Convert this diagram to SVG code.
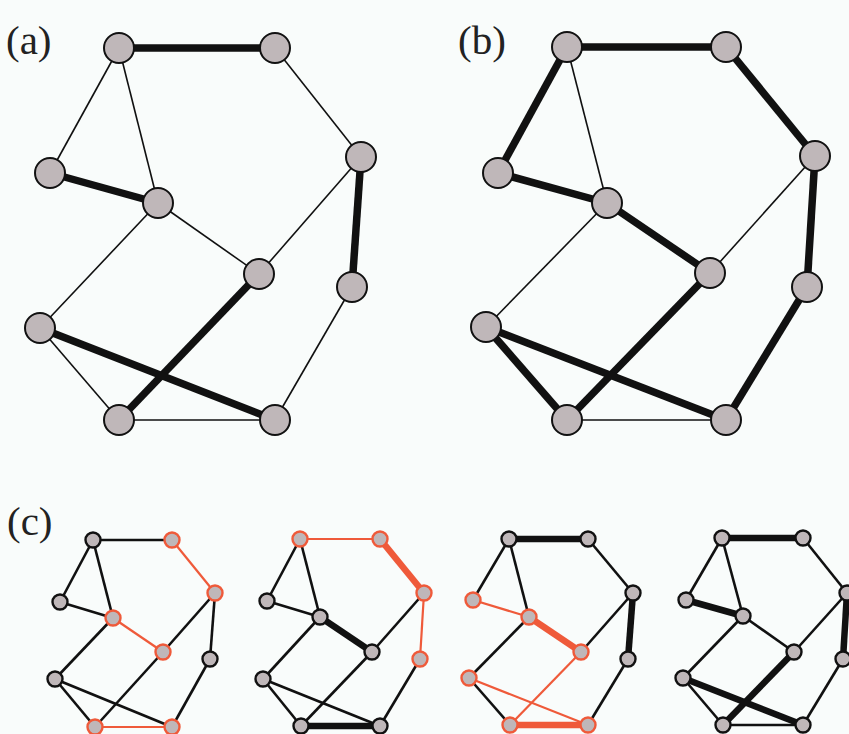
<svg xmlns="http://www.w3.org/2000/svg" width="849" height="734" viewBox="0 0 849 734">
<style>
.bg{fill:#f9fcfb}
.lbl{font-family:"Liberation Serif","DejaVu Serif",serif;font-size:41px;fill:#222}
.big .n{fill:#bfb7b9;stroke:#111;stroke-width:2}
.big .t{stroke:#111;stroke-width:1.6;fill:none}
.big .T{stroke:#111;stroke-width:7.5;fill:none}
.sm .n{fill:#bfb7b9;stroke:#111;stroke-width:2.4}
.sm .no{fill:#bfb7b9;stroke:#ef5a3a;stroke-width:2.4}
.sm .t{stroke:#111;stroke-width:2.6;fill:none}
.sm .T{stroke:#111;stroke-width:6.5;fill:none}
.sm .o{stroke:#ef5a3a;stroke-width:2.2;fill:none}
.sm .O{stroke:#ef5a3a;stroke-width:6.5;fill:none}
</style>
<rect class="bg" x="0" y="0" width="849" height="734"/>
<text class="lbl" x="6" y="54">(a)</text>
<text class="lbl" x="458" y="54">(b)</text>
<text class="lbl" x="7" y="535">(c)</text>

<!-- Panel (a) -->
<g class="big" id="panel-a">
<g id="a-edges">
<line class="T" x1="119" y1="48" x2="275" y2="48"/>
<line class="t" x1="119" y1="48" x2="50" y2="173"/>
<line class="t" x1="119" y1="48" x2="158" y2="203"/>
<line class="t" x1="275" y1="48" x2="361" y2="157"/>
<line class="T" x1="50" y1="173" x2="158" y2="203"/>
<line class="t" x1="158" y1="203" x2="259" y2="274"/>
<line class="t" x1="158" y1="203" x2="40" y2="328"/>
<line class="t" x1="361" y1="157" x2="259" y2="274"/>
<line class="T" x1="361" y1="157" x2="352" y2="287"/>
<line class="T" x1="259" y1="274" x2="119" y2="420"/>
<line class="t" x1="352" y1="287" x2="275" y2="420"/>
<line class="t" x1="40" y1="328" x2="119" y2="420"/>
<line class="T" x1="40" y1="328" x2="275" y2="420"/>
<line class="t" x1="119" y1="420" x2="275" y2="420"/>
</g>
<g id="a-n1"><circle class="n" cx="119" cy="48" r="15"/></g>
<g id="a-n2"><circle class="n" cx="275" cy="48" r="15"/></g>
<g id="a-n3"><circle class="n" cx="361" cy="157" r="15"/></g>
<g id="a-n4"><circle class="n" cx="50" cy="173" r="15"/></g>
<g id="a-n5"><circle class="n" cx="158" cy="203" r="15"/></g>
<g id="a-n6"><circle class="n" cx="259" cy="274" r="15"/></g>
<g id="a-n7"><circle class="n" cx="352" cy="287" r="15"/></g>
<g id="a-n8"><circle class="n" cx="40" cy="328" r="15"/></g>
<g id="a-n9"><circle class="n" cx="119" cy="420" r="15"/></g>
<g id="a-n10"><circle class="n" cx="275" cy="420" r="15"/></g>
</g>

<!-- Panel (b) -->
<g class="big" id="panel-b">
<g id="b-edges">
<line class="T" x1="567" y1="47" x2="726" y2="47"/>
<line class="T" x1="567" y1="47" x2="498" y2="173"/>
<line class="t" x1="567" y1="47" x2="607" y2="203"/>
<line class="T" x1="726" y1="47" x2="815" y2="156"/>
<line class="T" x1="498" y1="173" x2="607" y2="203"/>
<line class="T" x1="607" y1="203" x2="710" y2="273"/>
<line class="t" x1="607" y1="203" x2="486" y2="327"/>
<line class="t" x1="815" y1="156" x2="710" y2="273"/>
<line class="T" x1="815" y1="156" x2="807" y2="287"/>
<line class="T" x1="710" y1="273" x2="567" y2="420"/>
<line class="T" x1="807" y1="287" x2="726" y2="420"/>
<line class="T" x1="486" y1="327" x2="567" y2="420"/>
<line class="T" x1="486" y1="327" x2="726" y2="420"/>
<line class="t" x1="567" y1="420" x2="726" y2="420"/>
</g>
<g id="b-n1"><circle class="n" cx="567" cy="47" r="15"/></g>
<g id="b-n2"><circle class="n" cx="726" cy="47" r="15"/></g>
<g id="b-n3"><circle class="n" cx="815" cy="156" r="15"/></g>
<g id="b-n4"><circle class="n" cx="498" cy="173" r="15"/></g>
<g id="b-n5"><circle class="n" cx="607" cy="203" r="15"/></g>
<g id="b-n6"><circle class="n" cx="710" cy="273" r="15"/></g>
<g id="b-n7"><circle class="n" cx="807" cy="287" r="15"/></g>
<g id="b-n8"><circle class="n" cx="486" cy="327" r="15"/></g>
<g id="b-n9"><circle class="n" cx="567" cy="420" r="15"/></g>
<g id="b-n10"><circle class="n" cx="726" cy="420" r="15"/></g>
</g>

<!-- Panel (c1) -->
<g class="sm" id="panel-c1">
<g id="c1-edges">
<line class="t" x1="93" y1="540" x2="172" y2="540"/>
<line class="t" x1="93" y1="540" x2="60" y2="602"/>
<line class="t" x1="93" y1="540" x2="113" y2="618"/>
<line class="o" x1="172" y1="540" x2="215" y2="593"/>
<line class="t" x1="60" y1="602" x2="113" y2="618"/>
<line class="o" x1="113" y1="618" x2="163" y2="652"/>
<line class="t" x1="113" y1="618" x2="55" y2="679"/>
<line class="t" x1="215" y1="593" x2="163" y2="652"/>
<line class="t" x1="215" y1="593" x2="210" y2="659"/>
<line class="t" x1="163" y1="652" x2="95" y2="727"/>
<line class="t" x1="210" y1="659" x2="172" y2="727"/>
<line class="t" x1="55" y1="679" x2="95" y2="727"/>
<line class="t" x1="55" y1="679" x2="172" y2="727"/>
<line class="o" x1="95" y1="727" x2="172" y2="727"/>
</g>
<g id="c1-n1"><circle class="n" cx="93" cy="540" r="7.5"/></g>
<g id="c1-n2"><circle class="no" cx="172" cy="540" r="7.5"/></g>
<g id="c1-n3"><circle class="no" cx="215" cy="593" r="7.5"/></g>
<g id="c1-n4"><circle class="n" cx="60" cy="602" r="7.5"/></g>
<g id="c1-n5"><circle class="no" cx="113" cy="618" r="7.5"/></g>
<g id="c1-n6"><circle class="no" cx="163" cy="652" r="7.5"/></g>
<g id="c1-n7"><circle class="n" cx="210" cy="659" r="7.5"/></g>
<g id="c1-n8"><circle class="n" cx="55" cy="679" r="7.5"/></g>
<g id="c1-n9"><circle class="no" cx="95" cy="727" r="7.5"/></g>
<g id="c1-n10"><circle class="no" cx="172" cy="727" r="7.5"/></g>
</g>

<!-- Panel (c2) -->
<g class="sm" id="panel-c2">
<g id="c2-edges">
<line class="o" x1="300" y1="539" x2="380" y2="539"/>
<line class="t" x1="300" y1="539" x2="267" y2="601"/>
<line class="t" x1="300" y1="539" x2="320" y2="617"/>
<line class="O" x1="380" y1="539" x2="424" y2="593"/>
<line class="t" x1="267" y1="601" x2="320" y2="617"/>
<line class="T" x1="320" y1="617" x2="372" y2="652"/>
<line class="t" x1="320" y1="617" x2="263" y2="679"/>
<line class="t" x1="424" y1="593" x2="372" y2="652"/>
<line class="o" x1="424" y1="593" x2="420" y2="659"/>
<line class="t" x1="372" y1="652" x2="301" y2="726"/>
<line class="t" x1="420" y1="659" x2="380" y2="726"/>
<line class="t" x1="263" y1="679" x2="301" y2="726"/>
<line class="t" x1="263" y1="679" x2="380" y2="726"/>
<line class="T" x1="301" y1="726" x2="380" y2="726"/>
</g>
<g id="c2-n1"><circle class="no" cx="300" cy="539" r="7.5"/></g>
<g id="c2-n2"><circle class="no" cx="380" cy="539" r="7.5"/></g>
<g id="c2-n3"><circle class="no" cx="424" cy="593" r="7.5"/></g>
<g id="c2-n4"><circle class="n" cx="267" cy="601" r="7.5"/></g>
<g id="c2-n5"><circle class="n" cx="320" cy="617" r="7.5"/></g>
<g id="c2-n6"><circle class="n" cx="372" cy="652" r="7.5"/></g>
<g id="c2-n7"><circle class="no" cx="420" cy="659" r="7.5"/></g>
<g id="c2-n8"><circle class="n" cx="263" cy="679" r="7.5"/></g>
<g id="c2-n9"><circle class="n" cx="301" cy="726" r="7.5"/></g>
<g id="c2-n10"><circle class="n" cx="380" cy="726" r="7.5"/></g>
</g>

<!-- Panel (c3) -->
<g class="sm" id="panel-c3">
<g id="c3-edges">
<line class="T" x1="509" y1="539" x2="588" y2="539"/>
<line class="t" x1="509" y1="539" x2="473" y2="600"/>
<line class="t" x1="509" y1="539" x2="529" y2="617"/>
<line class="t" x1="588" y1="539" x2="633" y2="593"/>
<line class="o" x1="473" y1="600" x2="529" y2="617"/>
<line class="O" x1="529" y1="617" x2="581" y2="652"/>
<line class="t" x1="529" y1="617" x2="469" y2="678"/>
<line class="t" x1="633" y1="593" x2="581" y2="652"/>
<line class="T" x1="633" y1="593" x2="628" y2="659"/>
<line class="o" x1="581" y1="652" x2="510" y2="725"/>
<line class="t" x1="628" y1="659" x2="588" y2="725"/>
<line class="t" x1="469" y1="678" x2="510" y2="725"/>
<line class="o" x1="469" y1="678" x2="588" y2="725"/>
<line class="O" x1="510" y1="725" x2="588" y2="725"/>
</g>
<g id="c3-n1"><circle class="n" cx="509" cy="539" r="7.5"/></g>
<g id="c3-n2"><circle class="n" cx="588" cy="539" r="7.5"/></g>
<g id="c3-n3"><circle class="n" cx="633" cy="593" r="7.5"/></g>
<g id="c3-n4"><circle class="no" cx="473" cy="600" r="7.5"/></g>
<g id="c3-n5"><circle class="no" cx="529" cy="617" r="7.5"/></g>
<g id="c3-n6"><circle class="no" cx="581" cy="652" r="7.5"/></g>
<g id="c3-n7"><circle class="n" cx="628" cy="659" r="7.5"/></g>
<g id="c3-n8"><circle class="no" cx="469" cy="678" r="7.5"/></g>
<g id="c3-n9"><circle class="no" cx="510" cy="725" r="7.5"/></g>
<g id="c3-n10"><circle class="no" cx="588" cy="725" r="7.5"/></g>
</g>

<!-- Panel (c4) -->
<g class="sm" id="panel-c4">
<g id="c4-edges">
<line class="T" x1="722" y1="538" x2="803" y2="538"/>
<line class="t" x1="722" y1="538" x2="686" y2="600"/>
<line class="t" x1="722" y1="538" x2="743" y2="616"/>
<line class="t" x1="803" y1="538" x2="847" y2="593"/>
<line class="T" x1="686" y1="600" x2="743" y2="616"/>
<line class="t" x1="743" y1="616" x2="794" y2="652"/>
<line class="t" x1="743" y1="616" x2="683" y2="678"/>
<line class="t" x1="847" y1="593" x2="794" y2="652"/>
<line class="T" x1="847" y1="593" x2="843" y2="659"/>
<line class="T" x1="794" y1="652" x2="723" y2="725"/>
<line class="t" x1="843" y1="659" x2="803" y2="725"/>
<line class="t" x1="683" y1="678" x2="723" y2="725"/>
<line class="T" x1="683" y1="678" x2="803" y2="725"/>
<line class="t" x1="723" y1="725" x2="803" y2="725"/>
</g>
<g id="c4-n1"><circle class="n" cx="722" cy="538" r="7.5"/></g>
<g id="c4-n2"><circle class="n" cx="803" cy="538" r="7.5"/></g>
<g id="c4-n3"><circle class="n" cx="847" cy="593" r="7.5"/></g>
<g id="c4-n4"><circle class="n" cx="686" cy="600" r="7.5"/></g>
<g id="c4-n5"><circle class="n" cx="743" cy="616" r="7.5"/></g>
<g id="c4-n6"><circle class="n" cx="794" cy="652" r="7.5"/></g>
<g id="c4-n7"><circle class="n" cx="843" cy="659" r="7.5"/></g>
<g id="c4-n8"><circle class="n" cx="683" cy="678" r="7.5"/></g>
<g id="c4-n9"><circle class="n" cx="723" cy="725" r="7.5"/></g>
<g id="c4-n10"><circle class="n" cx="803" cy="725" r="7.5"/></g>
</g>
</svg>
